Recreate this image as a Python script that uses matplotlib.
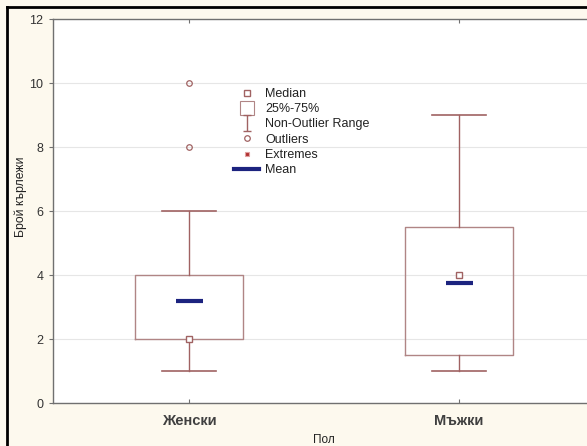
import matplotlib
matplotlib.use("Agg")
import matplotlib.pyplot as plt
from matplotlib.lines import Line2D
from matplotlib.path import Path

plt.rcParams['font.family'] = ['Liberation Sans', 'DejaVu Sans']

categories = ['Женски', 'Мъжки']
q1 = [2.0, 1.5]
q3 = [4.0, 5.5]
medians = [2.0, 4.0]
whisk_lo = [1.0, 1.0]
whisk_hi = [6.0, 9.0]
means = [3.2, 3.75]
outliers = [[8.0, 10.0], []]
y_ticks = [0, 2, 4, 6, 8, 10, 12]

box_col = '#B08585'
whisk_col = '#A06262'
mean_col = '#1C237F'
bg_col = '#FDF9EE'

fig = plt.figure(figsize=(5.87, 4.46), dpi=100, facecolor=bg_col)
ax = fig.add_axes([53/587, 43/446, 541/587, 384/446])
ax.set_facecolor('white')

pos = list(range(len(categories)))
stats = []
for i in pos:
    stats.append(dict(med=medians[i], q1=q1[i], q3=q3[i],
                      whislo=whisk_lo[i], whishi=whisk_hi[i],
                      fliers=outliers[i], label=categories[i]))

ax.bxp(stats, positions=pos, widths=0.4, showfliers=True,
       boxprops=dict(color=box_col, linewidth=1.0),
       whiskerprops=dict(color=whisk_col, linewidth=1.0),
       capprops=dict(color=whisk_col, linewidth=1.2),
       medianprops=dict(linewidth=0),
       flierprops=dict(marker='o', markersize=4, markerfacecolor='none',
                       markeredgecolor=whisk_col, markeredgewidth=0.9),
       capwidths=0.2, zorder=3)

# median squares
ax.plot(pos, medians, linestyle='none', marker='s', markersize=5,
        markerfacecolor='white', markeredgecolor=whisk_col,
        markeredgewidth=1.0, zorder=5)
# means
for i in pos:
    ax.hlines(means[i], i - 0.05, i + 0.05, colors=mean_col, linewidth=3, zorder=4)

ax.set_xlim(-0.504, 1.5)
ax.set_ylim(0, 12)
ax.set_yticks(y_ticks)
ax.set_yticklabels([str(t) for t in y_ticks])
ax.set_xticks(pos)
ax.set_xticklabels(categories, fontsize=10.5, fontweight='bold', color='#404040')
ax.grid(axis='y', color='#E6E6E6', linewidth=0.8, zorder=0)
ax.set_axisbelow(True)

for s in ['left', 'top', 'bottom']:
    ax.spines[s].set_color('#707070')
    ax.spines[s].set_linewidth(1.0)
ax.spines['right'].set_visible(False)

ax.tick_params(axis='y', direction='out', length=3, color='#707070',
               labelsize=9, labelcolor='#333333', pad=4)
ax.tick_params(axis='x', direction='in', length=3, color='#707070',
               top=True, pad=8)

ax.set_ylabel('Брой кърлежи', fontsize=8.8, color='#222222')
ax.yaxis.set_label_coords((27 - 53) / 541, (403 - 197) / 384)
ax.set_xlabel('Пол', fontsize=8.5, color='#222222', labelpad=4)

# legend
ibeam = Path([(-0.5, -1), (0.5, -1), (0, -1), (0, 1), (-0.5, 1), (0.5, 1)],
             [Path.MOVETO, Path.LINETO, Path.MOVETO, Path.LINETO, Path.MOVETO, Path.LINETO])
handles = [
    Line2D([], [], linestyle='none', marker='s', markersize=5, markerfacecolor='white',
           markeredgecolor=whisk_col, markeredgewidth=1.0),
    Line2D([], [], linestyle='none', marker='s', markersize=9.5, markerfacecolor='white',
           markeredgecolor=box_col, markeredgewidth=0.8),
    Line2D([], [], linestyle='none', marker=ibeam, markersize=12,
           markerfacecolor='none', markeredgecolor=whisk_col, markeredgewidth=1.0),
    Line2D([], [], linestyle='none', marker='o', markersize=4, markerfacecolor='none',
           markeredgecolor=whisk_col, markeredgewidth=0.9),
    Line2D([], [], linestyle='none', marker='s', markersize=3.5, markerfacecolor='#B03030',
           markeredgecolor='#E0A0A0', markeredgewidth=0.8),
    Line2D([], [], color=mean_col, linewidth=3),
]
labels = ['Median', '25%-75%', 'Non-Outlier Range', 'Outliers', 'Extremes', 'Mean']
leg = ax.legend(handles, labels, loc='upper left',
                bbox_to_anchor=(234/587, 1 - 88/446), bbox_transform=fig.transFigure,
                frameon=False, fontsize=9, handlelength=2.0, handletextpad=0.5,
                labelspacing=0.26, borderpad=0.0, borderaxespad=0.0)
for t in leg.get_texts():
    t.set_color('#222222')

# outer frame (top and left)
fig.add_artist(Line2D([7/587, 7/587], [0, 1 - 7/446], transform=fig.transFigure,
                      color='black', linewidth=2.0))
fig.add_artist(Line2D([7/587, 1], [1 - 7/446, 1 - 7/446], transform=fig.transFigure,
                      color='black', linewidth=2.0))

fig.savefig('out.png', dpi=100, facecolor=bg_col)
